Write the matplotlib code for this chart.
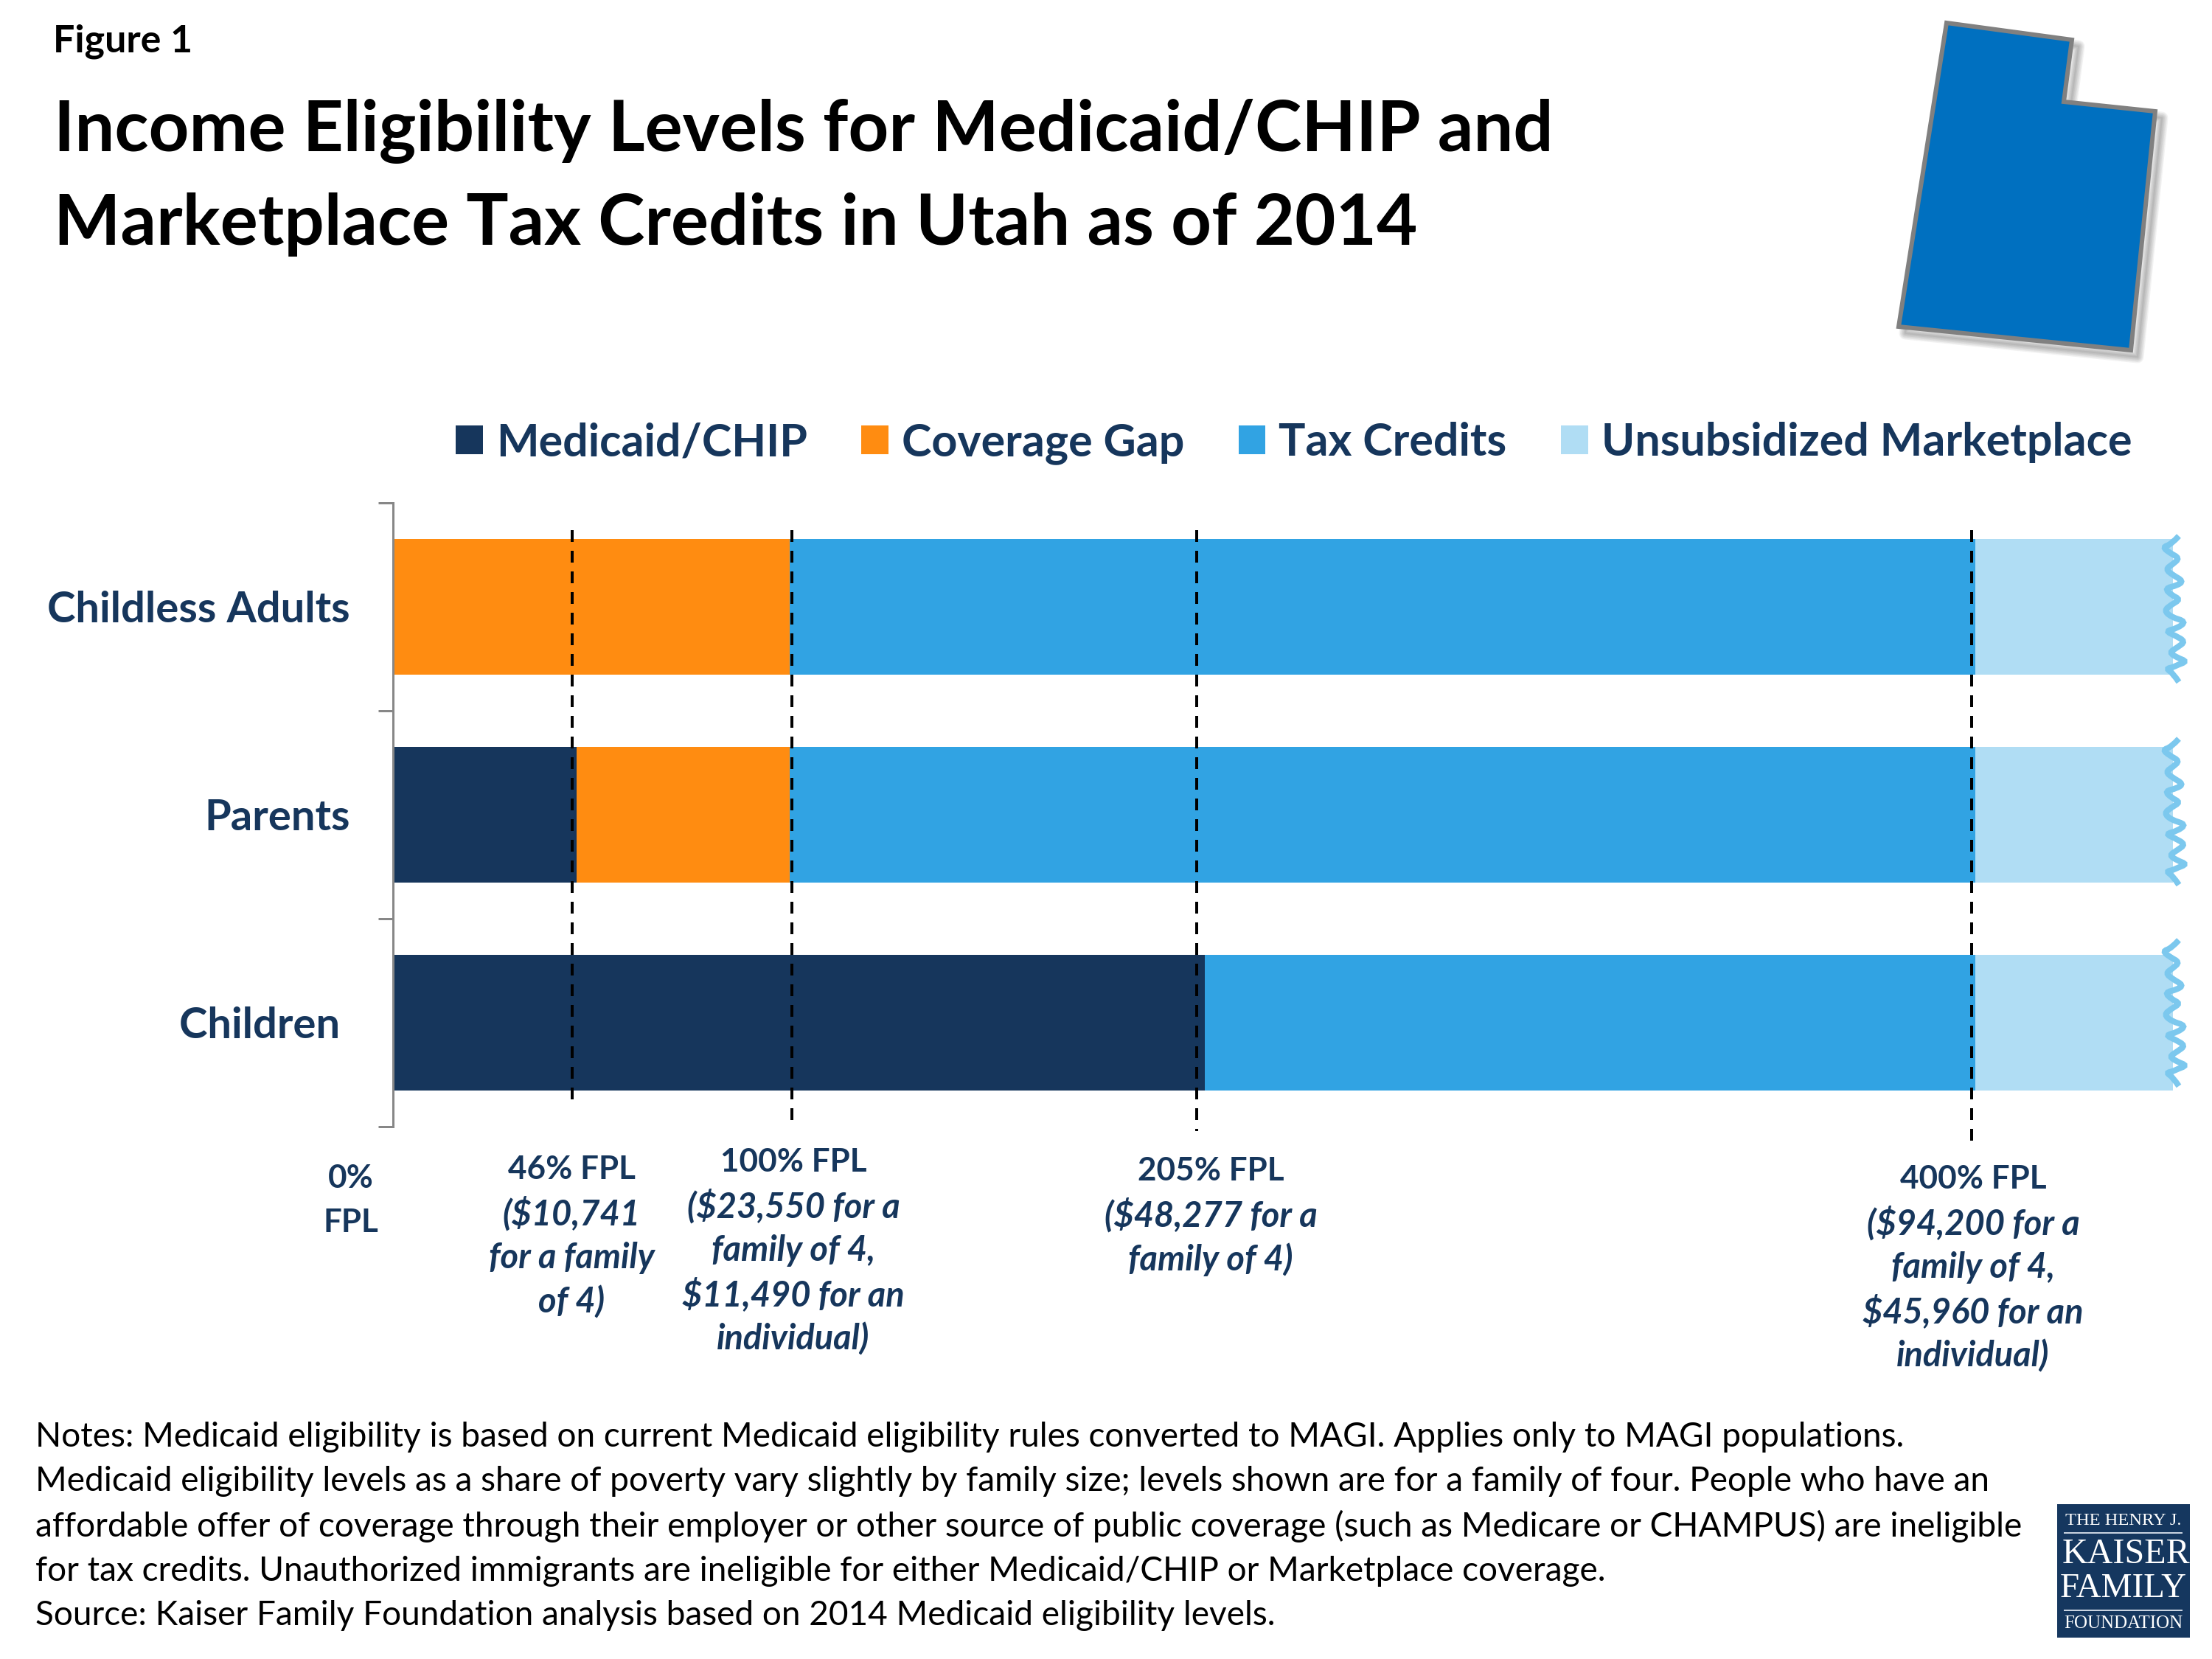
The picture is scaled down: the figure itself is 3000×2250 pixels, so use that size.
#!/usr/bin/env python3
# -*- coding: utf-8 -*-

#Income eligibility levels, Utah 2014

#importing libraries
import numpy as np
import matplotlib
matplotlib.use('Agg')
import matplotlib.pyplot as plt
from matplotlib.patches import Polygon, Rectangle, Patch, PathPatch
from matplotlib.path import Path

#data, values in % of FPL
groups = ['Childless Adults', 'Parents', 'Children ']
medicaid = [0, 46, 205]
coverage_gap = [100, 54, 0]
tax_credits = [300, 300, 195]
unsubsidized = [50, 50, 50]
series_names = ['Medicaid/CHIP', 'Coverage Gap', 'Tax Credits', 'Unsubsidized Marketplace']

#dashed lines, as they sit in the picture
line_levels = [45, 100.5, 203, 399]
line_bottoms = [2.37, 2.49, 2.52, 2.58]

#labels under the chart
label_heads = ['0%\nFPL', '46% FPL', '100% FPL', '205% FPL', '400% FPL']
label_details = [
    [],
    ['($10,741', 'for a family', 'of 4)'],
    ['($23,550 for a', 'family of 4,', '$11,490 for an', 'individual)'],
    ['($48,277 for a', 'family of 4)'],
    ['($94,200 for a', 'family of 4,', '$45,960 for an', 'individual)'],
]
label_x = [476, 775, 1076, 1642, 2676]
label_y = [1598, 1586, 1576, 1588, 1599]

title_lines = ['Income Eligibility Levels for Medicaid/CHIP and',
               'Marketplace Tax Credits in Utah as of 2014']
notes_lines = [
    'Notes: Medicaid eligibility is based on current Medicaid eligibility rules converted to MAGI. Applies only to MAGI populations.',
    'Medicaid eligibility levels as a share of poverty vary slightly by family size; levels shown are for a family of four. People who have an',
    'affordable offer of coverage through their employer or other source of public coverage (such as Medicare or CHAMPUS) are ineligible',
    'for tax credits. Unauthorized immigrants are ineligible for either Medicaid/CHIP or Marketplace coverage.',
    'Source: Kaiser Family Foundation analysis based on 2014 Medicaid eligibility levels.',
]
notes_y = [1949, 2009, 2070, 2131, 2191]

#colours
NAVY = '#16365C'
ORANGE = '#FF8C11'
BLUE = '#31A3E3'
LIGHT = '#B0DDF4'
WAVE = '#7CC8EE'
GREY = '#878787'

#torn edge and Utah outline, in pixels
wave_x = [2955, 2945, 2933, 2943, 2956, 2947, 2937, 2947, 2961, 2953, 2936, 2945, 2957, 2945, 2935, 2945, 2965, 2953, 2937, 2950, 2964, 2953, 2942, 2953, 2966, 2953, 2947, 2938, 2947, 2955]
wave_y = [27, 38, 42, 50, 57, 65, 72, 80, 88, 94, 98, 107, 113, 120, 128, 137, 143, 152, 156, 162, 170, 178, 185, 192, 197, 202, 205, 207, 213, 225]
wave_top = [700, 975, 1248]
utah_x = [2640, 2810, 2799, 2923, 2890, 2575]
utah_y = [31, 54, 138, 151, 475, 443]

plt.rcParams['font.family'] = ['Lato', 'DejaVu Sans']
W, H = 3000, 2250
fig = plt.figure(figsize=(10, 7.5), dpi=300)

def px(n):
    #pixels to points
    return n * 72 / 300

#main chart
ax = fig.add_axes([535 / W, 1 - 1528 / H, (W - 535) / W, 846 / H])
y = np.arange(len(groups))
left = np.zeros(len(groups))
for vals, col, name in zip([medicaid, coverage_gap, tax_credits, unsubsidized],
                           [NAVY, ORANGE, BLUE, LIGHT], series_names):
    ax.barh(y, vals, height=0.652, left=left, color=col, label=name, linewidth=0)
    left = left + np.array(vals)
ax.set_xlim(0, (W - 535) / 5.36)
ax.set_ylim(2.5, -0.5)
for s in ['top', 'right', 'bottom']:
    ax.spines[s].set_visible(False)
ax.spines['left'].set_color(GREY)
ax.spines['left'].set_linewidth(px(3))
ax.spines['left'].set_position(('outward', px(2)))
ax.set_xticks([])
ax.set_yticks(y)
ax.set_yticklabels(groups, fontsize=px(58), fontweight='bold', color=NAVY)
ax.tick_params(axis='y', which='major', length=0, pad=px(58))
ax.set_yticks([-0.5, 0.5, 1.5, 2.5], minor=True)
ax.tick_params(axis='y', which='minor', length=px(20), width=px(3), color=GREY)

for lev, bot in zip(line_levels, line_bottoms):
    ax.plot([lev, lev], [-0.37, bot], color='black', lw=px(4), clip_on=False,
            dashes=(4, 3), zorder=5, solid_capstyle='butt')

handles = [Patch(facecolor=c, linewidth=0) for c in [NAVY, ORANGE, BLUE, LIGHT]]
fig.legend(handles, series_names, ncol=4, loc='center left', bbox_to_anchor=(618 / W, 1 - 601 / H),
           frameon=False, handlelength=0.6, handleheight=0.6, handletextpad=0.3,
           columnspacing=1.2, borderpad=0, borderaxespad=0, labelcolor=NAVY,
           prop={'weight': 'bold', 'size': px(61)})

#overlay in pixels for the text and the pictures
over = fig.add_axes([0, 0, 1, 1], zorder=10)
over.set_xlim(0, W)
over.set_ylim(H, 0)
over.axis('off')

#torn edge on the bars, smoothed with quadratic curves
for top in wave_top:
    pts = np.column_stack([wave_x, np.array(wave_y) + top])
    mids = (pts[1:-2] + pts[2:-1]) / 2
    verts = [pts[0]]
    codes = [Path.MOVETO]
    for c, m in zip(pts[1:-2], mids):
        verts += [c, m]
        codes += [Path.CURVE3, Path.CURVE3]
    verts += [pts[-2], pts[-1]]
    codes += [Path.CURVE3, Path.CURVE3]
    over.add_patch(PathPatch(Path(verts, codes), facecolor='none', edgecolor=WAVE, lw=px(8), capstyle='butt'))

over.text(72, 56, 'Figure 1', fontsize=px(52), fontweight='bold', va='center', color='black')
for i, line in enumerate(title_lines):
    over.text(73, 178 + i * 126, line, fontsize=px(95.7), fontweight='bold', va='center', color='black')

for head, det, x0, y0 in zip(label_heads, label_details, label_x, label_y):
    parts = head.split('\n')
    for i, line in enumerate(parts):
        over.text(x0, y0 + i * 60, line, fontsize=px(44), fontweight='bold', color=NAVY, ha='center', va='center')
    for i, line in enumerate(det):
        over.text(x0, y0 + (i + 1) * 60, line, fontsize=px(47), fontweight='bold', style='italic',
                  color=NAVY, ha='center', va='center')

for line, yy in zip(notes_lines, notes_y):
    over.text(48, yy, line, fontsize=px(46), va='center', color='black')

#Utah shape with a soft shadow
pts = np.column_stack([utah_x, utah_y])
for k in range(6):
    over.add_patch(Polygon(pts + [9, 9], closed=True, facecolor='none', edgecolor='black', alpha=0.05,
                           lw=px(2 + 3 * k), joinstyle='round'))
over.add_patch(Polygon(pts, closed=True, facecolor='#0070C0', edgecolor='#808080', lw=px(6), joinstyle='miter'))

#logo
over.add_patch(Rectangle((2790, 2040), 180, 181, facecolor='#15375F', edgecolor='none'))
over.text(2880, 2063, 'THE HENRY J.', family='Liberation Serif', fontsize=px(24.5), color='white', ha='center', va='center')
over.plot([2800, 2959], [2079, 2079], color='#C9D3E0', lw=px(2))
over.text(2883, 2108, 'KAISER', family='Liberation Serif', fontsize=px(48), color='white', ha='center', va='center')
over.text(2880, 2155, 'FAMILY', family='Liberation Serif', fontsize=px(47), color='white', ha='center', va='center')
over.plot([2800, 2959], [2184, 2184], color='#C9D3E0', lw=px(2))
over.text(2880, 2202, 'FOUNDATION', family='Liberation Serif', fontsize=px(25), color='white', ha='center', va='center')

fig.savefig('out.png', dpi=300)
